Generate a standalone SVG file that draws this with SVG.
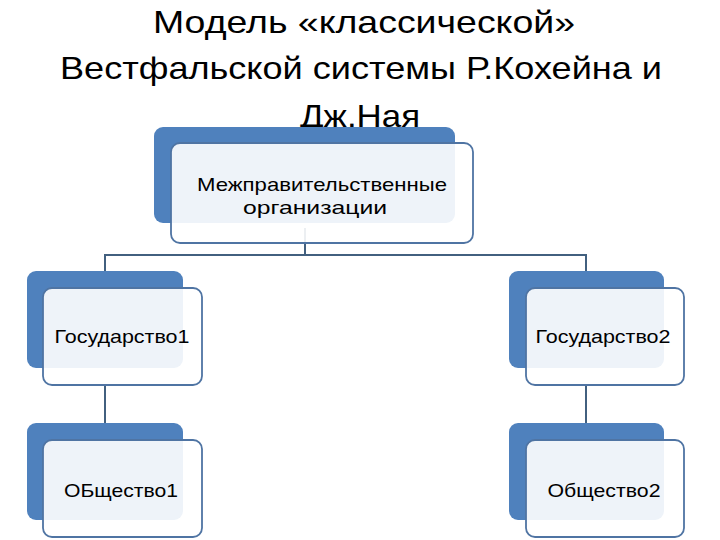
<svg xmlns="http://www.w3.org/2000/svg" width="720" height="540" viewBox="0 0 720 540">
<style>
.title{font-family:"Liberation Sans",Arial,sans-serif;font-size:32px;fill:#000;text-anchor:middle}
.back{fill:#4f81bd}
.front{fill:#ffffff;fill-opacity:0.9;stroke:#4f74a3;stroke-width:1.8}
.lbl{font-family:"Liberation Sans",Arial,sans-serif;font-size:19px;fill:#000;text-anchor:middle}
.conn{fill:none;stroke:#42607f;stroke-width:2}
</style>
<rect width="720" height="540" fill="#ffffff"/>
<g id="title">
<text class="title" x="364" y="33" textLength="422" lengthAdjust="spacingAndGlyphs">Модель «классической»</text>
<text class="title" x="361" y="79" textLength="602" lengthAdjust="spacingAndGlyphs">Вестфальской системы Р.Кохейна и</text>
<text class="title" x="360" y="127" textLength="120" lengthAdjust="spacingAndGlyphs">Дж.Ная</text>
</g>
<g id="connectors">
<path class="conn" d="M305 228 V255 M105 271 V255 H586 V271"/>
<path class="conn" d="M105 385 V423"/>
<path class="conn" d="M586 385 V423"/>
</g>
<g id="node-mpo">
<rect class="back" x="154" y="127" width="301" height="96" rx="9"/>
<rect class="front" x="171" y="143" width="302" height="100" rx="9"/>
<text class="lbl" x="322" y="191" textLength="250" lengthAdjust="spacingAndGlyphs">Межправительственные</text>
<text class="lbl" x="315" y="214" textLength="144" lengthAdjust="spacingAndGlyphs">организации</text>
</g>
<g id="node-gos1">
<rect class="back" x="27" y="271" width="156" height="97" rx="9"/>
<rect class="front" x="43" y="288" width="159" height="97" rx="9"/>
<text class="lbl" x="122" y="343" textLength="135" lengthAdjust="spacingAndGlyphs">Государство1</text>
</g>
<g id="node-gos2">
<rect class="back" x="509" y="271" width="155" height="97" rx="9"/>
<rect class="front" x="526" y="288" width="158" height="97" rx="9"/>
<text class="lbl" x="603" y="343" textLength="135" lengthAdjust="spacingAndGlyphs">Государство2</text>
</g>
<g id="node-ob1">
<rect class="back" x="27" y="423" width="156" height="97" rx="9"/>
<rect class="front" x="43" y="440" width="159" height="97" rx="9"/>
<text class="lbl" x="121" y="497" textLength="114" lengthAdjust="spacingAndGlyphs">ОБщество1</text>
</g>
<g id="node-ob2">
<rect class="back" x="509" y="423" width="155" height="97" rx="9"/>
<rect class="front" x="526" y="440" width="158" height="97" rx="9"/>
<text class="lbl" x="604" y="497" textLength="113" lengthAdjust="spacingAndGlyphs">Общество2</text>
</g>
</svg>
